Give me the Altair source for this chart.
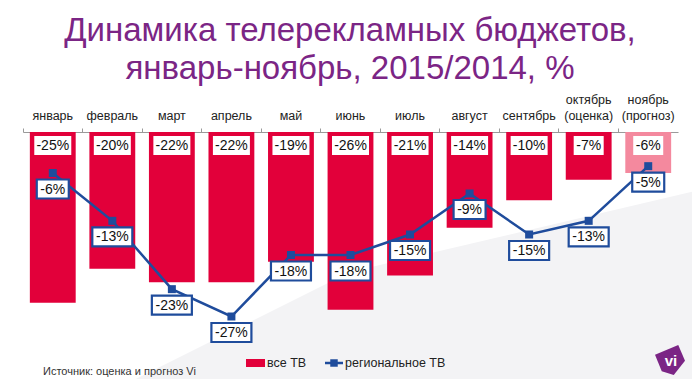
import altair as alt
import pandas as pd

# ---- data ----
months = ["январь", "февраль", "март", "апрель", "май", "июнь", "июль",
          "август", "сентябрь", "октябрь|(оценка)", "ноябрь|(прогноз)"]
all_tv = [-25, -20, -22, -22, -19, -26, -21, -14, -10, -7, -6]
regional_tv = [-6, -13, -23, -27, -18, -18, -15, -9, -15, -13, -5]
status = ["факт"] * 10 + ["прогноз"]
title_lines = ["Динамика телерекламных бюджетов,", "январь-ноябрь, 2015/2014, %"]
legend_labels = ["все ТВ", "региональное ТВ"]
source_text = "Источник: оценка и прогноз Vi"
logo_text = "vi"

RED = "#E2003A"
PINK = "#F4899E"
BLUE = "#1F4C9C"
PURPLE = "#7B2585"
FONT = "Liberation Sans"

df = pd.DataFrame({"month": months, "vse": all_tv, "reg": regional_tv, "status": status})
df["vse_lbl"] = df["vse"].map(lambda v: f"{v}%")
df["reg_lbl"] = df["reg"].map(lambda v: f"{v}%")
df["vse_len"] = df["vse_lbl"].str.len()
df["reg_len"] = df["reg_lbl"].str.len()

x_enc = alt.X("month:N", sort=months,
              scale=alt.Scale(paddingInner=0, paddingOuter=0),
              axis=alt.Axis(orient="top", title=None, labelAngle=0,
                            labelExpr="length(split(datum.label, '|')) > 1 ? split(datum.label, '|') : ['', datum.label]",
                            labelFont=FONT, labelFontSize=12.5, labelColor="#222",
                            labelLineHeight=16, labelPadding=22,
                            tickSize=4, tickColor="#9a9a9a", bandPosition=0,
                            domainColor="#9a9a9a", domainWidth=1.2, grid=False))
y_scale = alt.Scale(domain=[-30, 0], nice=False)
mx = alt.X("month:N", sort=months)

one = pd.DataFrame({"k": [0]})

# faint grey diagonal backdrop (lower right of the slide)
backdrop = alt.Chart(one).mark_point(
    shape="M-1,0.334L-0.207,-0.062L1,-0.345L1,0.334Z",
    filled=True, color="#F3F3F5", opacity=1, size=336400, strokeWidth=0).encode(
    x=alt.value(387), y=alt.value(158))

base = alt.Chart(df)

bars = base.mark_bar(width=alt.RelativeBandSize(0.77)).encode(
    x=x_enc,
    y=alt.Y("vse:Q", scale=y_scale, axis=None),
    color=alt.Color("status:N", scale=alt.Scale(domain=["факт", "прогноз"], range=[RED, PINK]), legend=None),
)

# white boxes with the bar values
bar_box_paths = ["M-1,-0.633H1V0.633H-1Z", "M-1,-0.514H1V0.514H-1Z"]
bar_boxes = base.mark_point(filled=True, fill="white", opacity=1, strokeWidth=0).encode(
    x=mx,
    y=alt.value(13.5),
    shape=alt.Shape("vse_len:O", scale=alt.Scale(domain=[3, 4], range=bar_box_paths), legend=None),
    size=alt.Size("vse_len:O", scale=alt.Scale(domain=[3, 4], range=[900, 1369]), legend=None),
)
bar_text = base.mark_text(font=FONT, fontSize=14, color="#111", baseline="middle").encode(
    x=mx, y=alt.value(14), text="vse_lbl:N",
)

line = base.mark_line(color=BLUE, strokeWidth=2.5).encode(
    x=mx, y=alt.Y("reg:Q", scale=y_scale, axis=None),
)
markers = base.mark_point(shape="square", filled=True, color=BLUE, opacity=1, size=64).encode(
    x=mx, y=alt.Y("reg:Q", scale=y_scale, axis=None),
)
reg_box_paths = ["M-1,-0.594H1V0.594H-1Z", "M-1,-0.475H1V0.475H-1Z"]
reg_boxes = base.mark_point(filled=True, fill="white", opacity=1, stroke=BLUE,
                            strokeWidth=2.2, yOffset=16).encode(
    x=mx, y=alt.Y("reg:Q", scale=y_scale, axis=None),
    shape=alt.Shape("reg_len:O", scale=alt.Scale(domain=[3, 4], range=reg_box_paths), legend=None),
    size=alt.Size("reg_len:O", scale=alt.Scale(domain=[3, 4], range=[1024, 1600]), legend=None),
)
reg_text = base.mark_text(font=FONT, fontSize=14, color="#111", baseline="middle", yOffset=16.5).encode(
    x=mx, y=alt.Y("reg:Q", scale=y_scale, axis=None), text="reg_lbl:N",
)

# title, two lines
title1 = alt.Chart(pd.DataFrame({"t": [title_lines[0]]})).mark_text(
    font=FONT, fontSize=33, color=PURPLE, baseline="middle", align="center").encode(
    x=alt.value(327), y=alt.value(-101), text="t:N")
title2 = alt.Chart(pd.DataFrame({"t": [title_lines[1]]})).mark_text(
    font=FONT, fontSize=33, color=PURPLE, baseline="middle", align="center").encode(
    x=alt.value(327), y=alt.value(-63), text="t:N")

leg_rect = alt.Chart(one).mark_rect(color=RED).encode(
    x=alt.value(223), x2=alt.value(242), y=alt.value(227), y2=alt.value(235))
leg_rule = alt.Chart(one).mark_rule(color=BLUE, strokeWidth=2.5).encode(
    x=alt.value(302), x2=alt.value(320), y=alt.value(231))
leg_sq = alt.Chart(one).mark_point(shape="square", filled=True, color=BLUE, opacity=1, size=56).encode(
    x=alt.value(311), y=alt.value(231))
leg_text1 = alt.Chart(pd.DataFrame({"t": [legend_labels[0]]})).mark_text(
    font=FONT, fontSize=12.5, color="#222", align="left", baseline="middle").encode(
    x=alt.value(244), y=alt.value(231), text="t:N")
leg_text2 = alt.Chart(pd.DataFrame({"t": [legend_labels[1]]})).mark_text(
    font=FONT, fontSize=12.5, color="#222", align="left", baseline="middle").encode(
    x=alt.value(322), y=alt.value(231), text="t:N")

src = alt.Chart(pd.DataFrame({"t": [source_text]})).mark_text(
    font=FONT, fontSize=11, color="#333", align="left", baseline="middle").encode(
    x=alt.value(20), y=alt.value(240), text="t:N")

logo_shape = alt.Chart(one).mark_point(
    shape="M-1,-0.35L0.55,-1L1,0.05L0.25,1L-0.55,0.75Z", filled=True, color=PURPLE, opacity=1, size=900).encode(
    x=alt.value(647), y=alt.value(228))
logo_txt = alt.Chart(pd.DataFrame({"t": [logo_text]})).mark_text(
    font=FONT, fontSize=15, fontWeight="bold", color="white", baseline="middle").encode(
    x=alt.value(648), y=alt.value(229), text="t:N")

chart = alt.layer(
    backdrop, bars, bar_boxes, bar_text, line, markers, reg_boxes, reg_text,
    title1, title2, leg_rect, leg_rule, leg_sq, leg_text1, leg_text2, src, logo_shape, logo_txt,
).resolve_scale(shape="independent", size="independent").properties(
    width=655, height=205,
    padding={"left": 15, "top": 124, "right": 14, "bottom": 42},
    autosize=alt.AutoSizeParams(type="none"),
    background="white",
).configure_view(stroke=None)

chart.save("out.html", embed_options={"renderer": "svg", "actions": False})
